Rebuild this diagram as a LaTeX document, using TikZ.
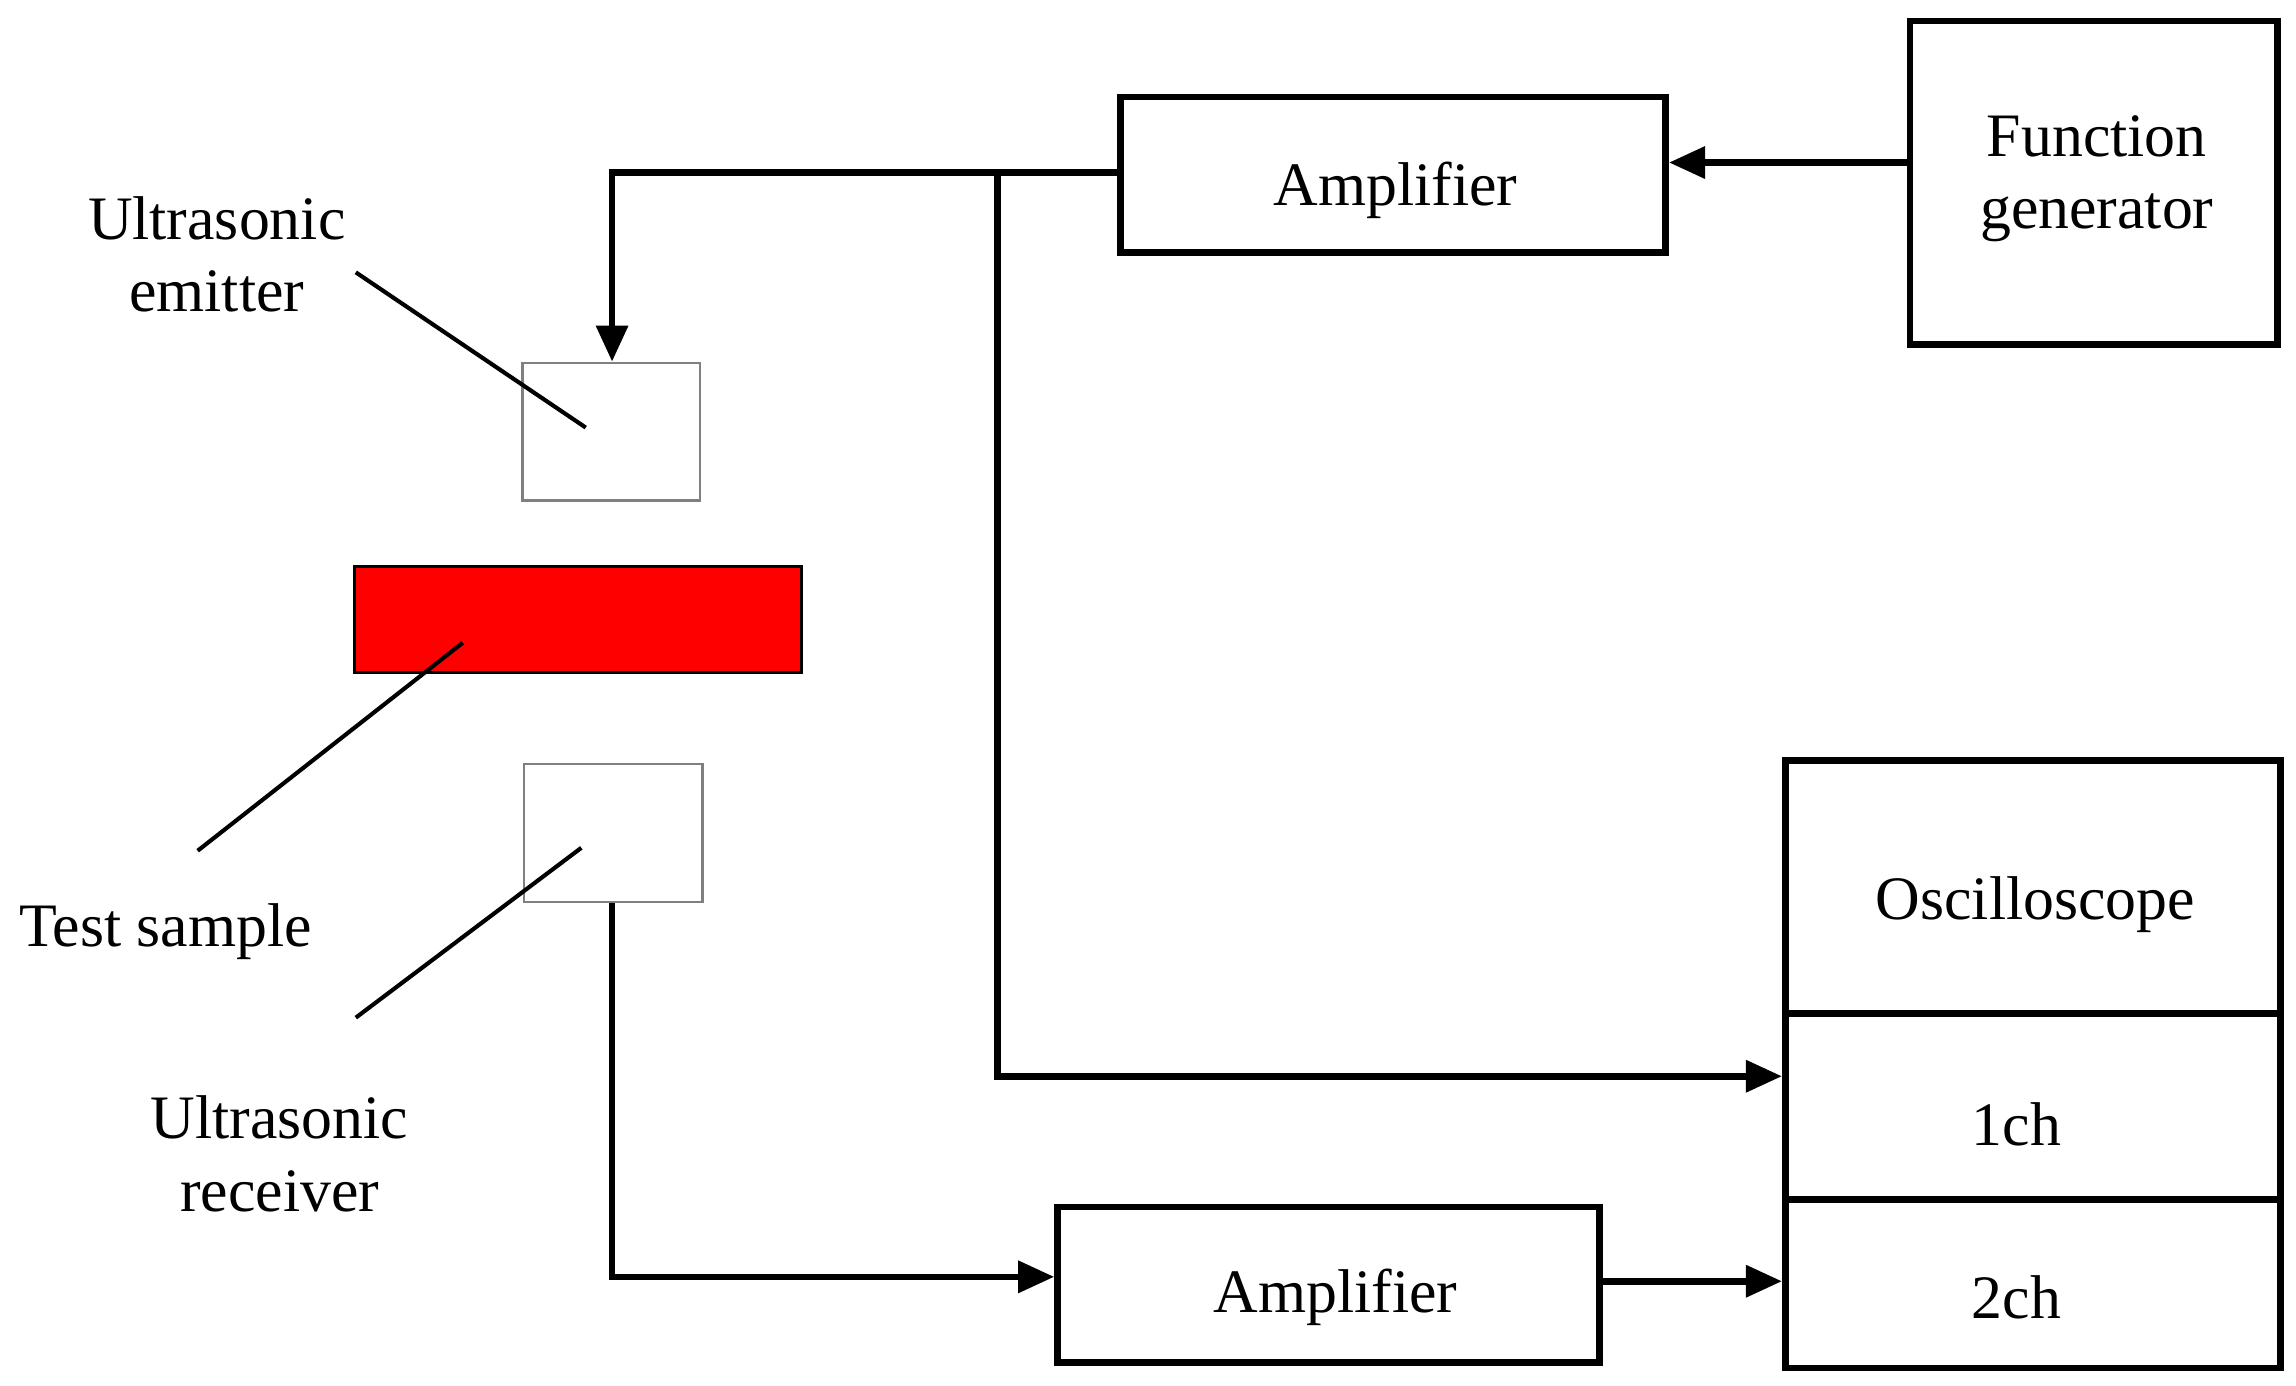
\documentclass[tikz,border=0pt]{standalone}
\usepackage{fontspec}
\setmainfont{Liberation Serif}
\usetikzlibrary{arrows.meta}
\begin{document}
\begin{tikzpicture}[x=0.01cm,y=-0.01cm,
  box/.style={draw,line width=1.3pt,inner sep=0pt},
  thin box/.style={draw=gray,line width=0.5pt,inner sep=0pt},
  wire/.style={line width=1.3pt},
  arr/.style={wire,-{Triangle[length=7pt,width=6pt]}},
  lead/.style={line width=0.8pt},
  lbl/.style={font=\fontsize{12}{14}\selectfont,align=center}]
\useasboundingbox (0,0) rectangle (1568,946);
\node[box,minimum width=3.72cm,minimum height=1.06cm,anchor=north west] (amp1) at (763,64) {};
\node[lbl] at (953,130) {Amplifier};
\node[box,minimum width=2.51cm,minimum height=2.21cm,anchor=north west] (fg) at (1302,12) {};
\node[lbl] at (1432,122) {Function\\generator};
\node[thin box,minimum width=1.21cm,minimum height=0.94cm,anchor=north west] (em) at (356,247) {};
\node[draw=black,fill=red,line width=0.6pt,minimum width=3.05cm,minimum height=0.72cm,anchor=north west,inner sep=0pt] (ts) at (241,386) {};
\node[thin box,minimum width=1.22cm,minimum height=0.94cm,anchor=north west] (rc) at (357,521) {};
\node[box,minimum width=3.70cm,minimum height=1.06cm,anchor=north west] (amp2) at (720,822) {};
\node[lbl] at (912,886) {Amplifier};
\node[box,minimum width=3.38cm,minimum height=1.73cm,anchor=north west] (osc) at (1217,517) {};
\node[lbl] at (1390,618) {Oscilloscope};
\node[box,minimum width=3.38cm,minimum height=1.27cm,anchor=north west] (ch1) at (1217,690) {};
\node[lbl] at (1377,768) {1ch};
\node[box,minimum width=3.38cm,minimum height=1.15cm,anchor=north west] (ch2) at (1217,817) {};
\node[lbl] at (1377,886) {2ch};
\coordinate (br) at (681,118);
\coordinate (c1) at (418,118);
\coordinate (c2) at (681,735);
\coordinate (c3) at (418,872);
\draw[arr] (fg.west |- 0,111) -- (amp1.east |- 0,111);
\draw[arr] (amp1.west |- br) -- (c1) -- (em.north -| c1);
\draw[arr] (br) -- (c2) -- (ch1.west |- c2);
\draw[arr] (rc.south -| c3) -- (c3) -- (amp2.west |- c3);
\draw[arr] (amp2.east |- 0,875) -- (ch2.west |- 0,875);
\node[lbl] (le) at (148,174) {Ultrasonic\\emitter};
\node[lbl] (lt) at (113,636) {Test sample};
\node[lbl] (lr) at (191,788) {Ultrasonic\\receiver};
\draw[lead] (243,186) -- (400,292);
\draw[lead] (135,581) -- (316,439);
\draw[lead] (243,695) -- (397,579);
\end{tikzpicture}
\end{document}
